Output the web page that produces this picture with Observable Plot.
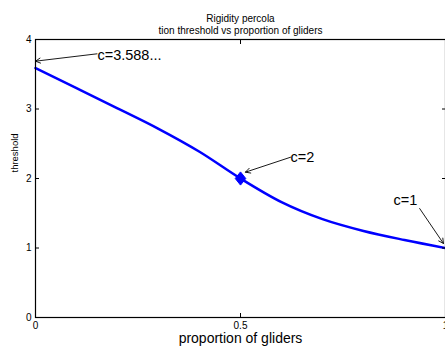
<!DOCTYPE html>
<html>
<head>
<meta charset="utf-8">
<script src="https://cdn.jsdelivr.net/npm/d3@7"></script>
<script src="https://cdn.jsdelivr.net/npm/@observablehq/plot@0.6"></script>
<style>
  html, body { margin: 0; padding: 0; background: #fff; }
  svg { display: block; }
</style>
</head>
<body>
<div id="chart"></div>
<script>
// ---- data ----
const proportion = [0, 0.1, 0.2, 0.3, 0.4, 0.5, 0.6, 0.7, 0.8, 0.9, 1.0];
const threshold  = [3.588, 3.30, 3.01, 2.715, 2.385, 2.00, 1.66, 1.415, 1.245, 1.115, 1.00];
const highlightX = [0.5];
const highlightY = [2.0];
const xTicks = [0, 0.5, 1];
const yTicks = [0, 1, 2, 3, 4];
const titleLines = ["Rigidity percola", "tion threshold vs proportion of gliders"];
const xLabel = "proportion of gliders";
const yLabel = "threshold";
// annotations: label, text position, arrow start and arrow tip (data coords)
const annLabels = ["c=3.588...", "c=2", "c=1"];
const annTextX  = [0.151, 0.622, 0.902];
const annTextY  = [3.77, 2.30, 1.683];
const annAnchor = ["start", "start", "middle"];
const annFromX  = [0.150, 0.622, 0.937];
const annFromY  = [3.794, 2.306, 1.568];
const annToX    = [0.0, 0.512, 0.995];
const annToY    = [3.688, 2.091, 1.065];

const curve = proportion.map((x, i) => ({x, y: threshold[i]}));
const marker = highlightX.map((x, i) => ({x, y: highlightY[i]}));
const ann = annLabels.map((t, i) => ({
  t, tx: annTextX[i], ty: annTextY[i], anchor: annAnchor[i],
  x1: annFromX[i], y1: annFromY[i], x2: annToX[i], y2: annToY[i]
}));

const diamond = {
  draw(ctx, size) {
    const r = Math.sqrt(size / Math.PI);
    const h = r * 1.1, w = r * 0.88;
    ctx.moveTo(0, -h); ctx.lineTo(w, 0); ctx.lineTo(0, h); ctx.lineTo(-w, 0); ctx.closePath();
  }
};

const font = "Liberation Sans, Helvetica, Arial, sans-serif";

const chart = Plot.plot({
  width: 445,
  height: 350,
  marginLeft: 35,
  marginRight: 0,
  marginTop: 39,
  marginBottom: 33,
  style: {fontFamily: font, fontSize: "10px", color: "black", background: "white"},
  x: {domain: [0, 1]},
  y: {domain: [0, 4]},
  marks: [
    Plot.line(curve, {x: "x", y: "y", stroke: "#0000ff", strokeWidth: 2.5, curve: "monotone-x"}),
    Plot.dot(marker, {x: "x", y: "y", r: 6, symbol: diamond, fill: "#0000ff", stroke: "#0000ff", strokeWidth: 1}),
    Plot.arrow(ann, {x1: "x1", y1: "y1", x2: "x2", y2: "y2", stroke: "black", strokeWidth: 0.9, headLength: 9, headAngle: 55}),
    Plot.text(ann.filter(d => d.anchor === "start"), {x: "tx", y: "ty", text: "t", textAnchor: "start", fontSize: 14.5, fill: "black"}),
    Plot.text(ann.filter(d => d.anchor === "middle"), {x: "tx", y: "ty", text: "t", textAnchor: "middle", fontSize: 14.5, fill: "black"}),
    Plot.frame({stroke: "black", strokeWidth: 1.2}),
    Plot.axisX({anchor: "bottom", ticks: xTicks, tickSize: -4, tickPadding: 8, tickFormat: d => String(d), label: null, fontSize: 10}),
    Plot.axisX({anchor: "top", ticks: xTicks, tickSize: -4, tickFormat: () => "", label: null}),
    Plot.axisY({anchor: "left", ticks: yTicks, tickSize: -4, tickPadding: 8, tickFormat: d => String(d), label: null, fontSize: 10}),
    Plot.axisY({anchor: "right", ticks: yTicks, tickSize: -4, tickFormat: () => "", label: null}),
    Plot.text([titleLines[0]], {frameAnchor: "top", dy: -25, text: d => d, fontSize: 10, fill: "black"}),
    Plot.text([titleLines[1]], {frameAnchor: "top", dy: -13, text: d => d, fontSize: 10, fill: "black"}),
    Plot.text([xLabel], {frameAnchor: "bottom", dy: 25, text: d => d, fontSize: 14, fill: "black"}),
    Plot.text([yLabel], {frameAnchor: "left", dx: -21, dy: -6, rotate: -90, text: d => d, fontSize: 9.5, fill: "black"})
  ]
});
document.getElementById("chart").appendChild(chart);
</script>
</body>
</html>
